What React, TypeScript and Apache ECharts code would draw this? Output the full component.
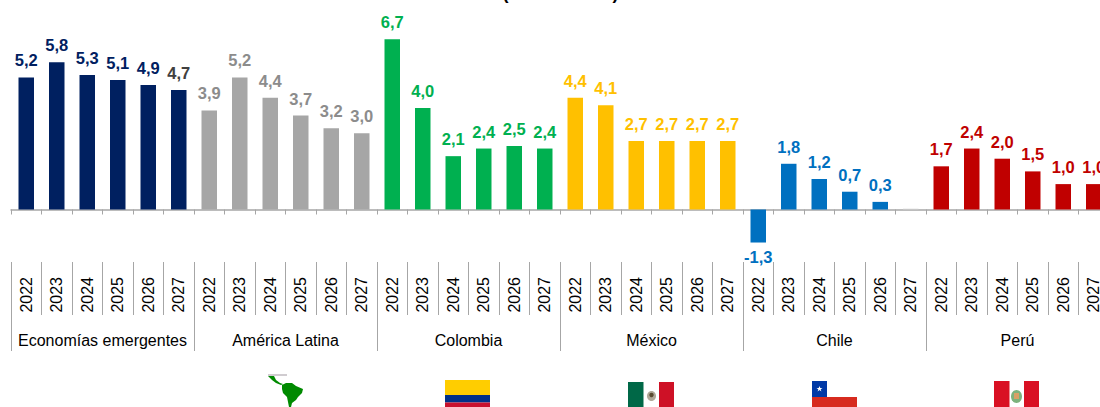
import React, { useEffect, useRef } from "react";
import * as echarts from "echarts";

const years = ["2022", "2023", "2024", "2025", "2026", "2027"];
const groups = ["Economías emergentes", "América Latina", "Colombia", "México", "Chile", "Perú"];
const emergentes = [5.2, 5.8, 5.3, 5.1, 4.9, 4.7];
const latam = [3.9, 5.2, 4.4, 3.7, 3.2, 3.0];
const colombia = [6.7, 4.0, 2.1, 2.4, 2.5, 2.4];
const mexico = [4.4, 4.1, 2.7, 2.7, 2.7, 2.7];
const chile = [-1.3, 1.8, 1.2, 0.7, 0.3, 0.03];
const peru = [1.7, 2.4, 2.0, 1.5, 1.0, 1.0];
const seriesValues = [emergentes, latam, colombia, mexico, chile, peru];
const barColors = ["#002060", "#A6A6A6", "#00B050", "#FFC000", "#0070C0", "#C00000"];
const labelColors = ["#002060", "#8C8C8C", "#00B050", "#FFC000", "#0070C0", "#C00000"];

const FONT = "Liberation Sans";
const AXIS = "#A6A6A6";

const latamMap = "M0 1 L6 1 L8 5 L12 8 L15 9 L13 10 L8 8 L4 5 Z M14 10 L18 8 L24 8 L28 11 L35 14 L34 18 L30 22 L28 25 L24 28 L23 32 L21 32 L20 27 L19 22 L15 18 L14 14 Z";
const starPath = "M0 -3 L0.8 -1 L3 -1 L1.2 0.3 L1.9 2.5 L0 1.1 L-1.9 2.5 L-1.2 0.3 L-3 -1 L-0.8 -1 Z";

export default function App() {
  const ref = useRef<HTMLDivElement>(null);
  useEffect(() => {
    document.body.style.margin = "0";
    document.body.style.overflow = "hidden";
    echarts.graphic.registerShape("latam", echarts.graphic.extendPath(latamMap, {}) as any);
    echarts.graphic.registerShape("star", echarts.graphic.extendPath(starPath, {}) as any);
    const chart = echarts.init(ref.current!, undefined, { renderer: "svg" });

    const cats: string[] = [];
    const values: any[] = [];
    seriesValues.forEach((vals, g) =>
      vals.forEach((v, i) => {
        cats.push(years[i]);
        const isStub = g === 4 && i === 5;
        values.push({
          value: v,
          itemStyle: { color: isStub ? "#D0D0D0" : barColors[g] },
          label: {
            show: !isStub,
            color: g === 0 && i === 5 ? "#404040" : labelColors[g],
            position: v < 0 ? "bottom" : "top",
            distance: v < 0 ? 6 : 8.5,
            fontFamily: FONT,
            fontWeight: "bold",
            fontSize: 16.5,
            formatter: () => v.toFixed(1).replace(".", ","),
          },
        });
      })
    );

    const rect = (x: number, y: number, width: number, height: number, fill: string) => ({
      type: "rect", shape: { x, y, width, height }, style: { fill }, silent: true,
    });

    chart.setOption({
      animation: false,
      backgroundColor: "#fff",
      grid: { left: 11, width: 1098, top: 31.7, height: 215.9, containLabel: false },
      yAxis: { type: "value", min: -1.5, max: 7, interval: 0.5, show: false },
      xAxis: [
        {
          type: "category", data: cats, position: "bottom",
          axisLine: { onZero: true, lineStyle: { color: AXIS, width: 1.5 } },
          axisTick: { show: true, length: 5, alignWithLabel: false, interval: 0, lineStyle: { color: AXIS } },
          axisLabel: { show: false }, splitLine: { show: false },
        },
        {
          type: "category", data: cats, position: "bottom", offset: 14.4,
          axisLine: { show: false, onZero: false },
          axisTick: { show: true, length: 53, interval: 0, lineStyle: { color: AXIS } },
          axisLabel: {
            show: true, interval: 0, rotate: 90, margin: 15, color: "#000",
            fontFamily: FONT, fontSize: 16,
          },
        },
        {
          type: "category", data: groups, position: "bottom", offset: 67.4,
          axisLine: { show: false, onZero: false },
          axisTick: { show: true, length: 36, interval: 0, lineStyle: { color: AXIS } },
          axisLabel: {
            show: true, interval: 0, margin: 17, color: "#000",
            fontFamily: FONT, fontSize: 16,
          },
        },
      ],
      series: [{ type: "bar", xAxisIndex: 0, yAxisIndex: 0, data: values, barWidth: 15.5 }],
      graphic: [
        { type: "text", x: 560.5, y: -16.5, style: { text: "(var. % anual)", fill: "#000", font: "bold 18px Liberation Sans", align: "center" }, silent: true },
        // América Latina map
        rect(268, 374, 19, 2, "#D0CCD0"),
        { type: "latam", x: 268, y: 375, style: { fill: "#008A00" }, silent: true },
        // Colombia
        rect(445, 380, 45, 15, "#FFCD00"),
        rect(445, 395, 45, 7.5, "#003087"),
        rect(445, 402.5, 45, 4.5, "#C8102E"),
        // México
        rect(628, 382, 15.5, 25, "#006847"),
        rect(659, 382, 15, 25, "#CE1126"),
        { type: "ellipse", shape: { cx: 651.5, cy: 396, rx: 4.5, ry: 5 }, style: { fill: "#B0A898" }, silent: true },
        { type: "circle", shape: { cx: 651.5, cy: 395, r: 2.2 }, style: { fill: "#5A4A30" }, silent: true },
        // Chile
        rect(812, 381, 15, 16, "#0039A6"),
        rect(812, 397, 45, 10, "#D72B1F"),
        { type: "star", x: 819.5, y: 389, style: { fill: "#fff" }, silent: true },
        // Perú
        rect(994, 381, 15.5, 26, "#D91023"),
        rect(1024, 381, 15, 26, "#D91023"),
        { type: "ellipse", shape: { cx: 1016.5, cy: 396.5, rx: 5.5, ry: 6.5 }, style: { fill: "#7DB27D" }, silent: true },
        { type: "rect", shape: { x: 1014, y: 393, width: 5, height: 6 }, style: { fill: "#D9A066" }, silent: true },
      ],
    });
    return () => chart.dispose();
  }, []);
  return (
    <div style={{ width: 1100, height: 407, overflow: "hidden" }}>
      <div ref={ref} style={{ width: 1130, height: 407 }} />
    </div>
  );
}
